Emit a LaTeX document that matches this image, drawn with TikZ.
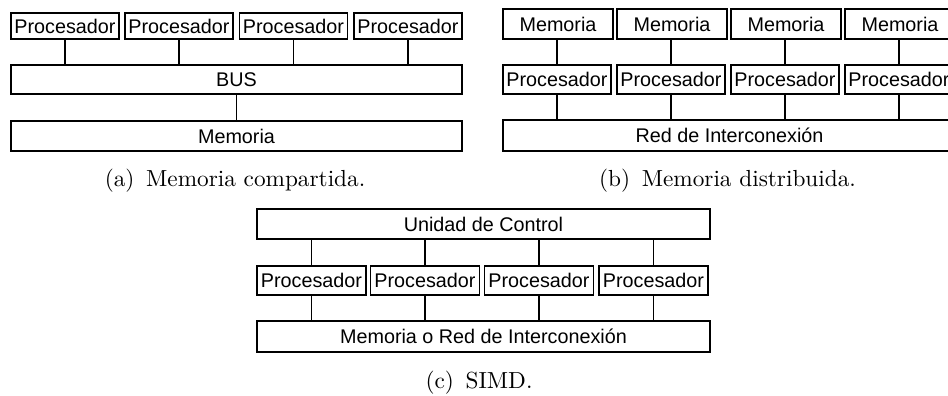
\documentclass[tikz,border=0pt]{standalone}
\usepackage{fontspec}
\newfontfamily\helv{Liberation Sans}

\begin{document}
\begin{tikzpicture}[x=0.43pt, y=-0.43pt,
  caja/.style={draw, line width=0.6pt, inner sep=0pt, font=\helv\fontsize{8.5}{10}\selectfont},
  enlace/.style={line width=0.6pt},
  pie/.style={anchor=base, font=\normalsize}]

% Unidad: un pixel del dibujo original
\def\u{0.43pt}

% Marco de la figura (la red de (b) queda cortada por la derecha)
\useasboundingbox (0,0) rectangle (948,396);
\clip (0,0) rectangle (948,396);

% (a) Memoria compartida
\node[caja, minimum width=108*\u, minimum height=26*\u] (pa1) at (65,26) {Procesador};
\node[caja, minimum width=108*\u, minimum height=26*\u] (pa2) at (179,26) {Procesador};
\node[caja, minimum width=108*\u, minimum height=26*\u] (pa3) at (293.5,26) {Procesador};
\node[caja, minimum width=108*\u, minimum height=26*\u] (pa4) at (408,26) {Procesador};
\node[caja, minimum width=451*\u, minimum height=29*\u] (bus) at (236.5,79.5) {BUS};
\node[caja, minimum width=451*\u, minimum height=30*\u] (mema) at (236.5,136) {Memoria};

\draw[enlace] (pa1.south) -- (pa1.south |- bus.north);
\draw[enlace] (pa2.south) -- (pa2.south |- bus.north);
\draw[enlace] (pa3.south) -- (pa3.south |- bus.north);
\draw[enlace] (pa4.south) -- (pa4.south |- bus.north);
\draw[enlace] (bus.south) -- (mema.north);

\node[pie] (capa) at (235,187) {(a)\enspace Memoria compartida.};

% (b) Memoria distribuida
\node[caja, minimum width=110*\u, minimum height=30*\u] (mb1) at (558,24) {Memoria};
\node[caja, minimum width=110*\u, minimum height=30*\u] (mb2) at (672,24) {Memoria};
\node[caja, minimum width=110*\u, minimum height=30*\u] (mb3) at (786,24) {Memoria};
\node[caja, minimum width=110*\u, minimum height=30*\u] (mb4) at (900,24) {Memoria};
\node[caja, minimum width=108*\u, minimum height=29*\u] (pb1) at (557,79.5) {Procesador};
\node[caja, minimum width=108*\u, minimum height=29*\u] (pb2) at (671,79.5) {Procesador};
\node[caja, minimum width=108*\u, minimum height=29*\u] (pb3) at (785,79.5) {Procesador};
\node[caja, minimum width=108*\u, minimum height=29*\u] (pb4) at (899,79.5) {Procesador};
\node[caja, minimum width=453*\u, minimum height=31*\u] (red) at (729.5,135.5) {Red de Interconexión};

\draw[enlace] (pb1.north) -- (pb1.north |- mb1.south);
\draw[enlace] (pb2.north) -- (pb2.north |- mb2.south);
\draw[enlace] (pb3.north) -- (pb3.north |- mb3.south);
\draw[enlace] (pb4.north) -- (pb4.north |- mb4.south);
\draw[enlace] (pb1.south) -- (pb1.south |- red.north);
\draw[enlace] (pb2.south) -- (pb2.south |- red.north);
\draw[enlace] (pb3.south) -- (pb3.south |- red.north);
\draw[enlace] (pb4.south) -- (pb4.south |- red.north);

\node[pie] (capb) at (727.5,187) {(b)\enspace Memoria distribuida.};

% (c) SIMD
\node[caja, minimum width=453*\u, minimum height=30*\u] (uc) at (483.5,224) {Unidad de Control};
\node[caja, minimum width=109*\u, minimum height=29*\u] (pc1) at (311.5,280.5) {Procesador};
\node[caja, minimum width=109*\u, minimum height=29*\u] (pc2) at (425,280.5) {Procesador};
\node[caja, minimum width=109*\u, minimum height=29*\u] (pc3) at (539,280.5) {Procesador};
\node[caja, minimum width=109*\u, minimum height=29*\u] (pc4) at (653.5,280.5) {Procesador};
\node[caja, minimum width=453*\u, minimum height=31*\u] (memc) at (483.5,336.5) {Memoria o Red de Interconexión};

\draw[enlace] (pc1.north) -- (pc1.north |- uc.south);
\draw[enlace] (pc2.north) -- (pc2.north |- uc.south);
\draw[enlace] (pc3.north) -- (pc3.north |- uc.south);
\draw[enlace] (pc4.north) -- (pc4.north |- uc.south);
\draw[enlace] (pc1.south) -- (pc1.south |- memc.north);
\draw[enlace] (pc2.south) -- (pc2.south |- memc.north);
\draw[enlace] (pc3.south) -- (pc3.south |- memc.north);
\draw[enlace] (pc4.south) -- (pc4.south |- memc.north);

\node[pie] (capc) at (479,388) {(c)\enspace SIMD.};

\end{tikzpicture}
\end{document}
